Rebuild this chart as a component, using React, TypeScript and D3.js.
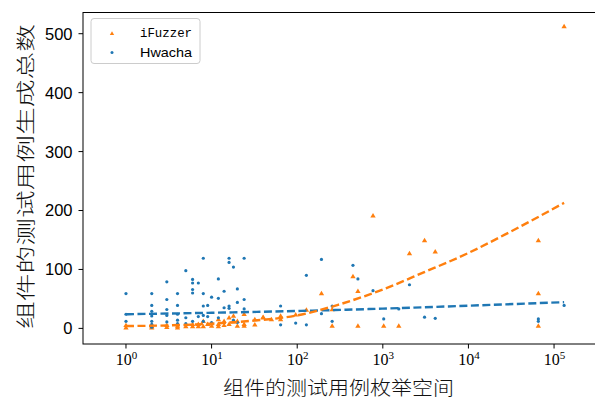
import React from "react";
import * as d3 from "d3";

// iFuzzer (orange triangles)
const ifuzzerX = [1, 1, 2, 2, 3, 3, 4, 4, 5, 6, 6, 7, 7, 8, 8, 9, 10, 10, 12, 12, 12, 14, 14, 16, 16, 18, 18, 20, 20, 24, 24, 24, 32, 32, 40, 40, 50, 64, 64, 96, 128, 192, 256, 256, 448, 512, 512, 768, 1024, 1536, 2048, 3072, 4096, 65536, 65536, 65536, 131072];
const ifuzzerY = [1, 5, 1, 3, 2, 5, 1, 4, 3, 3, 7, 7, 3, 3, 12, 7, 4, 8, 15, 7, 3, 12, 5, 18, 7, 21, 11, 12, 4, 24, 7, 4, 15, 6, 19, 18, 15, 21, 15, 23, 31, 59, 32, 4, 88, 63, 4, 191, 4, 4, 127, 149, 130, 149, 59, 4, 512];

// Hwacha (blue dots)
const hwachaX = [1, 1, 1, 2, 2, 2, 2, 2, 2, 2, 3, 3, 3, 3, 3, 4, 4, 4, 4, 4, 5, 5, 5, 6, 6, 6, 6, 6, 7, 7, 8, 8, 8, 8, 8, 9, 9, 10, 10, 12, 12, 12, 14, 14, 16, 16, 16, 16, 18, 18, 20, 20, 20, 24, 24, 24, 64, 64, 96, 128, 128, 192, 192, 256, 256, 448, 512, 768, 1024, 1536, 2048, 3072, 4096, 65536, 65536, 131072];
const hwachaY = [59, 24, 12, 59, 39, 29, 21, 12, 7, 2, 79, 49, 32, 22, 11, 59, 39, 24, 14, 8, 98, 18, 8, 83, 77, 66, 60, 12, 77, 20, 119, 59, 38, 22, 12, 39, 20, 53, 10, 84, 51, 18, 63, 35, 119, 112, 38, 34, 104, 14, 67, 44, 10, 119, 49, 33, 38, 6, 9, 90, 6, 117, 25, 38, 12, 107, 84, 64, 16, 33, 74, 19, 17, 16, 12, 39];

// Trend lines
const ifuzzerTrendX = [1, 3, 10, 30, 100, 300, 1000, 3000, 10000, 30000, 131072];
const ifuzzerTrendY = [4, 5, 8, 13, 22, 40, 66, 95, 128, 163, 213];
const hwachaTrendX = [1, 10, 100, 1000, 10000, 131072];
const hwachaTrendY = [24, 26.5, 29.5, 33.5, 38.5, 44.5];

const yTicks = [0, 100, 200, 300, 400, 500];
const xTickExps = [0, 1, 2, 3, 4, 5];
const seriesNames = ["iFuzzer", "Hwacha"];
const xLabel = "组件的测试用例枚举空间";
const yLabel = "组件的测试用例生成总数";

const ORANGE = "#ff7f0e";
const BLUE = "#1f77b4";

export default function App() {
  const W = 595, H = 400;
  const left = 83, right = 596, top = 12.5, bottom = 344;
  const x = d3.scaleLog().domain([Math.pow(10, -0.502), Math.pow(10, 5.49)]).range([left, right]);
  const y = d3.scaleLinear().domain([-26.5, 536]).range([bottom, top]);
  const line = d3
    .line<[number, number]>()
    .x((d) => x(d[0]))
    .y((d) => y(d[1]))
    .curve(d3.curveMonotoneX);

  const tri = (cx: number, cy: number, s: number) =>
    `M${cx},${cy - s}L${cx + s * 0.95},${cy + s * 0.6}L${cx - s * 0.95},${cy + s * 0.6}Z`;

  const ifPts = ifuzzerX.map((v, i) => [v, ifuzzerY[i]] as [number, number]);
  const hwPts = hwachaX.map((v, i) => [v, hwachaY[i]] as [number, number]);
  const ifTrend = ifuzzerTrendX.map((v, i) => [v, ifuzzerTrendY[i]] as [number, number]);
  const hwTrend = hwachaTrendX.map((v, i) => [v, hwachaTrendY[i]] as [number, number]);

  return (
    <div style={{ position: "fixed", left: 0, top: 0, width: W, height: H, background: "#fff" }}>
      <svg width={W} height={H} style={{ display: "block" }}>
        <rect x={0} y={0} width={W} height={H} fill="#fff" />
        <defs>
          <clipPath id="plot">
            <rect x={left} y={top} width={right - left} height={bottom - top} />
          </clipPath>
        </defs>
        <g clipPath="url(#plot)">
          {ifPts.map((d, i) => (
            <path key={"i" + i} d={tri(x(d[0]), y(d[1]), 2.8)} fill={ORANGE} />
          ))}
          {hwPts.map((d, i) => (
            <circle key={"h" + i} cx={x(d[0])} cy={y(d[1])} r={1.6} fill={BLUE} />
          ))}
          <path d={line(hwTrend) || ""} fill="none" stroke={BLUE} strokeWidth={2.4} strokeDasharray="8,3.5" />
          <path d={line(ifTrend) || ""} fill="none" stroke={ORANGE} strokeWidth={2.4} strokeDasharray="8,3.5" />
        </g>
        {/* frame */}
        <rect x={left} y={top} width={right - left} height={bottom - top} fill="none" stroke="#000" strokeWidth={1} />
        {/* y ticks */}
        {yTicks.map((t) => (
          <g key={"yt" + t}>
            <line x1={left - 4.5} x2={left} y1={y(t)} y2={y(t)} stroke="#000" strokeWidth={1} />
            <text x={72.5} y={y(t)} dy="0.36em" textAnchor="end" fontFamily="Liberation Sans, Arial, sans-serif" fontSize={16.5} fill="#000">
              {t}
            </text>
          </g>
        ))}
        {/* x ticks */}
        {xTickExps.map((e) => (
          <g key={"xt" + e}>
            <line x1={x(Math.pow(10, e))} x2={x(Math.pow(10, e))} y1={bottom} y2={bottom + 4.5} stroke="#000" strokeWidth={1} />
            <text x={x(Math.pow(10, e)) + 0.5} y={365} textAnchor="middle" fontFamily="Liberation Serif, Times New Roman, serif" fontSize={16} fill="#000">
              10
              <tspan fontSize={11} dy={-6.5}>{e}</tspan>
            </text>
          </g>
        ))}
        {/* axis labels */}
        <text x={(left + 594) / 2} y={395} textAnchor="middle" fontFamily="Noto Sans CJK SC, sans-serif" fontWeight={300} fontSize={19.5} textLength={231} lengthAdjust="spacingAndGlyphs" fill="#111">
          {xLabel}
        </text>
        <text transform={`translate(33,${(23 + 330) / 2}) rotate(-90)`} textAnchor="middle" fontFamily="Noto Sans CJK SC, sans-serif" fontWeight={300} fontSize={19.5} textLength={305} lengthAdjust="spacingAndGlyphs" fill="#111">
          {yLabel}
        </text>
        {/* legend */}
        <rect x={91} y={18.5} width={109} height={45} rx={3} fill="#fff" fillOpacity={0.8} stroke="#ccc" strokeWidth={1} />
        <path d={tri(112, 33.5, 2.3)} fill={ORANGE} />
        <circle cx={112} cy={52.5} r={1.5} fill={BLUE} />
        <text x={140} y={37} fontFamily="Liberation Mono, DejaVu Sans Mono, monospace" fontSize={13} textLength={52} lengthAdjust="spacingAndGlyphs" fill="#000">
          {seriesNames[0]}
        </text>
        <text x={140} y={56.5} fontFamily="Liberation Sans, Arial, sans-serif" fontSize={13} textLength={52} lengthAdjust="spacingAndGlyphs" fill="#000">
          {seriesNames[1]}
        </text>
      </svg>
    </div>
  );
}
